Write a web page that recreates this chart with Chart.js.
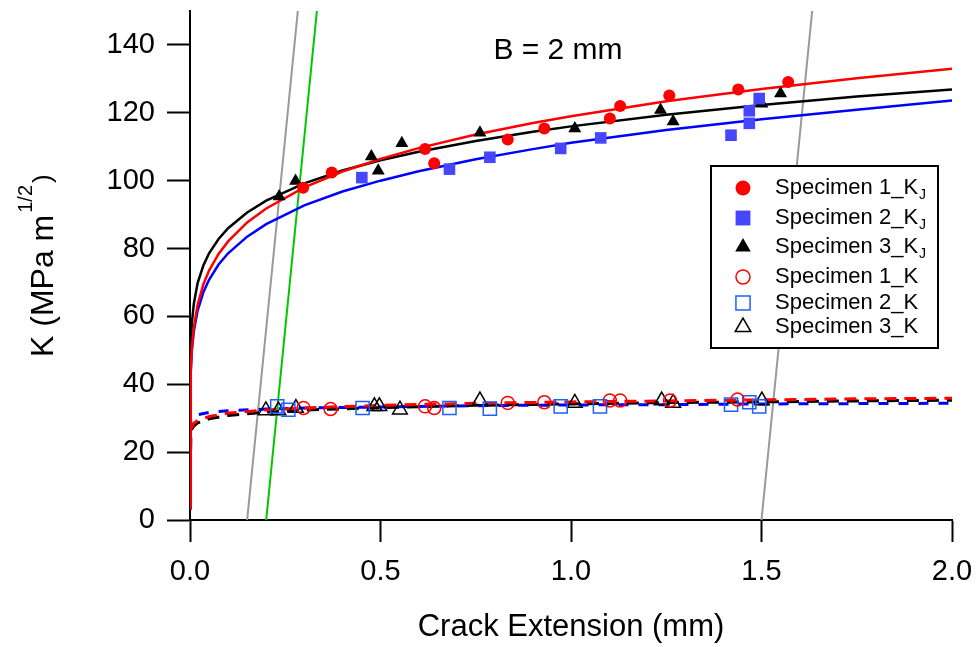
<!DOCTYPE html>
<html><head><meta charset="utf-8">
<script src="https://cdn.jsdelivr.net/npm/chart.js@4.4.1/dist/chart.umd.min.js"></script>
<style>html,body{margin:0;padding:0;background:#fff;}canvas{display:block;}</style>
</head><body>
<canvas id="c" width="979" height="647"></canvas>
<script>
// ---------- data ----------
const xTicks = [0, 0.5, 1.0, 1.5, 2.0];
const yTicks = [0, 20, 40, 60, 80, 100, 120, 140];

// filled markers: K_J
const spec1KJ = [[0.297,97.9],[0.372,102.4],[0.617,109.3],[0.641,105.1],[0.834,112.1],[0.930,115.4],[1.102,118.3],[1.129,122.0],[1.258,125.1],[1.439,126.9],[1.570,129.1]];
const spec2KJ = [[0.451,100.9],[0.681,103.4],[0.787,106.9],[0.973,109.5],[1.078,112.6],[1.420,113.4],[1.468,116.9],[1.468,120.6],[1.494,124.2]];
const spec3KJ = [[0.234,95.3],[0.277,99.9],[0.476,107.1],[0.494,102.9],[0.556,111.0],[0.761,114.1],[1.010,115.4],[1.235,120.8],[1.268,117.4],[1.501,122.7],[1.550,125.7]];

// open markers: K
const spec1K = [[0.298,33.0],[0.369,32.7],[0.617,33.5],[0.641,33.0],[0.834,34.5],[0.930,34.7],[1.102,35.2],[1.129,35.2],[1.260,35.2],[1.437,35.5]];
const spec2K = [[0.229,33.5],[0.258,32.5],[0.453,33.0],[0.681,33.0],[0.787,32.8],[0.973,33.5],[1.076,33.5],[1.420,34.0],[1.468,34.7],[1.494,33.5]];
const spec3K = [[0.199,32.3],[0.232,32.3],[0.278,33.0],[0.484,33.5],[0.497,33.5],[0.551,32.5],[0.761,35.2],[1.010,34.5],[1.238,35.2],[1.268,34.5],[1.501,35.2]];

// fitted curves (solid, K_J)
const fitX = [0, 0.002, 0.005, 0.01, 0.02, 0.035, 0.05, 0.075, 0.1, 0.15, 0.2, 0.3, 0.4, 0.5, 0.6, 0.75, 0.9, 1.0, 1.25, 1.5, 1.75, 2.0];
const fit1KJ = [4, 43.8, 50.7, 56.7, 63.4, 69.4, 73.5, 78.4, 82.1, 87.7, 91.8, 98.0, 102.7, 106.4, 109.6, 113.6, 117.0, 119.0, 123.4, 127.0, 130.2, 133.0];
const fit2KJ = [4, 43.7, 50.1, 55.6, 61.7, 67.1, 70.8, 75.3, 78.6, 83.5, 87.2, 92.7, 96.8, 100.0, 102.8, 106.3, 109.3, 111.2, 114.9, 118.1, 120.9, 123.6];
const fit3KJ = [4, 51.7, 58.2, 63.7, 69.8, 75.0, 78.6, 82.8, 86.0, 90.6, 94.1, 99.2, 103.0, 106.0, 108.5, 111.7, 114.4, 116.0, 119.4, 122.3, 124.8, 126.9];

// fitted curves (dashed, K)
const dashX = [0, 0.002, 0.005, 0.01, 0.02, 0.05, 0.1, 0.2, 0.3, 0.5, 0.75, 1.0, 1.25, 1.5, 1.75, 2.0];
const fit1K = [3, 26.5, 27.6, 28.5, 29.3, 30.5, 31.5, 32.4, 33.0, 33.8, 34.4, 34.8, 35.1, 35.4, 35.7, 35.9];
const fit2K = [3, 29.4, 30.1, 30.5, 31.0, 31.7, 32.2, 32.7, 33.0, 33.3, 33.7, 33.9, 34.0, 34.2, 34.3, 34.4];
const fit3K = [3, 25.7, 26.8, 27.7, 28.6, 29.8, 30.8, 31.8, 32.4, 33.1, 33.8, 34.2, 34.6, 34.8, 35.1, 35.3];

// construction lines (exclusion / offset lines)
const exclusionLow  = [[0.15, 0], [0.283, 150]];
const offsetLine    = [[0.20, 0], [0.333, 150]];
const exclusionHigh = [[1.50, 0], [1.633, 150]];

const legendLabels = ['Specimen 1_K', 'Specimen 2_K', 'Specimen 3_K', 'Specimen 1_K', 'Specimen 2_K', 'Specimen 3_K'];
const legendSubs   = ['J', 'J', 'J', '', '', ''];
const annotation = 'B = 2 mm';
const xTitle = 'Crack Extension (mm)';
const yTitleMain = 'K (MPa m';
const yTitleSup = '1/2';
const yTitleEnd = ')';

// ---------- styling ----------
const FONT = '"Liberation Sans", Arial, Helvetica, sans-serif';
const RED = '#ff0000', BLUE_F = '#4646ff', BLUE_O = '#1f5fff', BLACK = '#000000';

const pts = a => a.map(p => ({x: p[0], y: p[1]}));
const curve = (xs, ys) => xs.map((x, i) => ({x: x, y: ys[i]}));

function markerSet(label, data, style, r, color, filled) {
  return {
    label, data: pts(data), showLine: false,
    pointStyle: style, pointRadius: r, pointHoverRadius: r,
    pointBackgroundColor: filled ? color : 'rgba(0,0,0,0)',
    pointBorderColor: color, pointBorderWidth: filled ? 0 : 1.5,
    borderColor: color, backgroundColor: color
  };
}
function lineSet(label, data, color, width, dash) {
  return {
    label, data, showLine: true, borderColor: color, backgroundColor: color,
    borderWidth: width, borderDash: dash || [], pointRadius: 0, pointHoverRadius: 0,
    tension: 0, fill: false
  };
}

const legendStyles = [
  {style: 'circle', r: 7.5, color: RED, filled: true},
  {style: 'rect', r: 10.5, color: BLUE_F, filled: true},
  {style: 'triangle', r: 9, color: BLACK, filled: true},
  {style: 'circle', r: 7, color: RED, filled: false},
  {style: 'rect', r: 10, color: BLUE_O, filled: false},
  {style: 'triangle', r: 9, color: BLACK, filled: false}
];

function drawMarker(ctx, s, x, y) {
  ctx.beginPath();
  if (s.style === 'circle') {
    ctx.arc(x, y, s.r, 0, Math.PI * 2);
  } else if (s.style === 'rect') {
    const h = s.r * Math.SQRT1_2;
    ctx.rect(x - h, y - h, 2 * h, 2 * h);
  } else {
    ctx.moveTo(x, y - s.r);
    ctx.lineTo(x + s.r * 0.866, y + s.r * 0.5);
    ctx.lineTo(x - s.r * 0.866, y + s.r * 0.5);
    ctx.closePath();
  }
  if (s.filled) { ctx.fillStyle = s.color; ctx.fill(); }
  else { ctx.lineWidth = 1.5; ctx.strokeStyle = s.color; ctx.stroke(); }
}

const overlay = {
  id: 'overlay',
  afterDatasetsDraw(chart) {
    const ctx = chart.ctx, a = chart.chartArea;
    ctx.save();
    // legend box
    const bx = a.left + 521, by = a.top + 155, bw = 227, bh = 182;
    ctx.fillStyle = '#fff';
    ctx.fillRect(bx, by, bw, bh);
    ctx.lineWidth = 2;
    ctx.strokeStyle = '#000';
    ctx.strokeRect(bx, by, bw, bh);
    const rows = [22, 52, 81, 111, 137, 161];
    for (let i = 0; i < legendLabels.length; i++) {
      const yy = by + rows[i];
      drawMarker(ctx, legendStyles[i], bx + 32, yy);
      ctx.fillStyle = '#000';
      ctx.font = '22px ' + FONT;
      ctx.textAlign = 'left';
      ctx.textBaseline = 'middle';
      ctx.fillText(legendLabels[i], bx + 64, yy);
      if (legendSubs[i]) {
        const w = ctx.measureText(legendLabels[i]).width;
        ctx.font = '14px ' + FONT;
        ctx.fillText(legendSubs[i], bx + 64 + w + 1, yy + 7);
      }
    }
    ctx.restore();
  },
  afterDraw(chart) {
    const ctx = chart.ctx, a = chart.chartArea;
    ctx.save();
    ctx.fillStyle = '#000';
    // annotation
    ctx.font = '30px ' + FONT;
    ctx.textAlign = 'center';
    ctx.textBaseline = 'middle';
    ctx.fillText(annotation, a.left + 368, a.top + 40);
    // y title, rotated, with superscript
    ctx.translate(53, 357);
    ctx.rotate(-Math.PI / 2);
    ctx.textAlign = 'left';
    ctx.textBaseline = 'alphabetic';
    ctx.font = '32px ' + FONT;
    ctx.fillText(yTitleMain, 0, 0);
    let w = ctx.measureText(yTitleMain).width + 2;
    ctx.font = '20px ' + FONT;
    ctx.fillText(yTitleSup, w, -21);
    w += ctx.measureText(yTitleSup).width + 2;
    ctx.font = '26px ' + FONT;
    ctx.fillText(yTitleEnd, w, -2);
    ctx.restore();
  }
};

const chart = new Chart(document.getElementById('c'), {
  type: 'scatter',
  data: {
    datasets: [
      markerSet('Specimen 1_KJ', spec1KJ, 'circle', 6, RED, true),
      markerSet('Specimen 2_KJ', spec2KJ, 'rect', 8.2, BLUE_F, true),
      markerSet('Specimen 3_KJ', spec3KJ, 'triangle', 7.5, BLACK, true),
      markerSet('Specimen 1_K', spec1K, 'circle', 6.5, RED, false),
      markerSet('Specimen 2_K', spec2K, 'rect', 9.3, BLUE_O, false),
      markerSet('Specimen 3_K', spec3K, 'triangle', 8.5, BLACK, false),
      lineSet('fit 1 KJ', curve(fitX, fit1KJ), RED, 2.5),
      lineSet('fit 3 KJ', curve(fitX, fit3KJ), BLACK, 2.5),
      lineSet('fit 2 KJ', curve(fitX, fit2KJ), '#0000ff', 2.5),
      lineSet('fit 1 K', curve(dashX, fit1K), RED, 3, [12, 8]),
      lineSet('fit 3 K', curve(dashX, fit3K), BLACK, 3, [12, 8]),
      lineSet('fit 2 K', curve(dashX, fit2K), '#0000ff', 3, [10, 10]),
      lineSet('offset', pts(offsetLine), '#00c800', 2),
      lineSet('exclusion low', pts(exclusionLow), '#999999', 2),
      lineSet('exclusion high', pts(exclusionHigh), '#999999', 2)
    ]
  },
  options: {
    responsive: false,
    devicePixelRatio: 1,
    animation: false,
    events: [],
    layout: {padding: {left: 0, right: 27, top: 11, bottom: 0}},
    plugins: {legend: {display: false}, tooltip: {enabled: false}},
    scales: {
      x: {
        type: 'linear', min: 0, max: 2,
        afterBuildTicks: s => { s.ticks = xTicks.map(v => ({value: v})); },
        afterFit: s => { s.height = 127; s.paddingLeft = 0; s.paddingRight = 0; },
        ticks: {color: '#000', font: {family: FONT, size: 29}, padding: 13, maxRotation: 0,
                callback: v => Number(v).toFixed(1)},
        grid: {display: true, drawOnChartArea: false, drawTicks: true, tickLength: 22, tickWidth: 2, tickColor: '#000'},
        border: {display: true, color: '#000', width: 2},
        title: {display: true, text: xTitle, color: '#000', font: {family: FONT, size: 31}, padding: {top: 0, bottom: 1}}
      },
      y: {
        type: 'linear', min: 0, max: 150,
        afterBuildTicks: s => { s.ticks = yTicks.map(v => ({value: v})); },
        afterFit: s => { s.width = 190; s.paddingTop = 0; s.paddingBottom = 0; },
        ticks: {color: '#000', font: {family: FONT, size: 29}, padding: 12,
                callback: v => String(v)},
        grid: {display: true, drawOnChartArea: false, drawTicks: true, tickLength: 23, tickWidth: 2, tickColor: '#000'},
        border: {display: true, color: '#000', width: 2}
      }
    }
  },
  plugins: [overlay]
});
</script>
</body></html>
